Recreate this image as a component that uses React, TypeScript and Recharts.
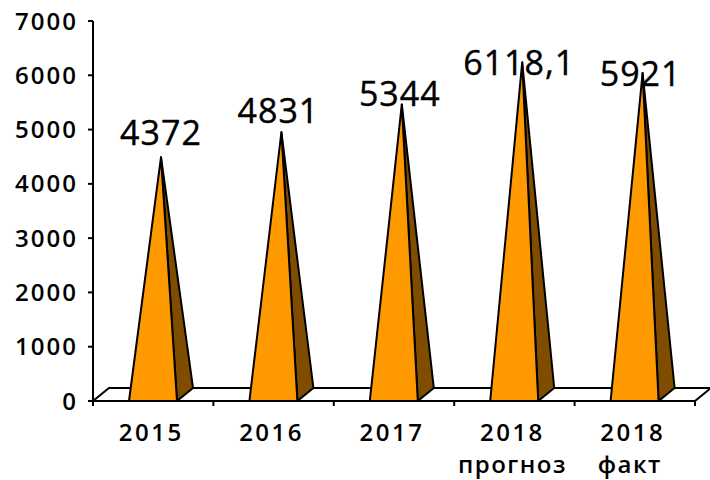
import { Bar, BarChart, LabelList, ReferenceArea, XAxis, YAxis } from "recharts";

const years = ["2015", "2016", "2017", "2018", "2018"];
const subLabels = ["", "", "", "прогноз", "факт"];
const values = [4372, 4831, 5344, 6118.1, 5921];
const yTicks = [0, 1000, 2000, 3000, 4000, 5000, 6000, 7000];

const data = years.map((year, i) => ({ key: `${year}-${i}`, value: values[i] }));

const WIDTH = 710;
const HEIGHT = 480;
const MARGIN = { top: 21, right: 15, bottom: 0, left: 0 };
const AXIS_W = 93;
const AXIS_H = 79;
const BAND = (WIDTH - AXIS_W - MARGIN.right) / years.length;
const DEPTH_X = 16;
const DEPTH_Y = 13;
const FONT = "'Open Sans', sans-serif";

// the data labels were moved by hand in the original
const labelNudge = [
  [0, -12],
  [-3, -9],
  [-2, 2],
  [-3, 13],
  [-2, 13],
];
const subNudge = [0, 0, 0, 0, -3];

function Pyramid(props: any) {
  const { x, y, width, height } = props;
  const base = y + height;
  const apexX = x + width / 2 + DEPTH_X / 2;
  const apexY = y - DEPTH_Y / 2;
  const right = x + width;
  return (
    <g stroke="#000" strokeWidth={2} strokeLinejoin="round">
      <path d={`M${right},${base}L${right + DEPTH_X},${base - DEPTH_Y}L${apexX},${apexY}Z`} fill="#804d00" />
      <path d={`M${x},${base}L${right},${base}L${apexX},${apexY}Z`} fill="#ff9900" />
    </g>
  );
}

function Floor(props: any) {
  const { x, y, width, height } = props;
  const base = y + height;
  return (
    <path
      d={`M${x},${base}L${x + DEPTH_X},${y}L${x + width + DEPTH_X},${y}L${x + width},${base}`}
      fill="#fff"
      stroke="#000"
      strokeWidth={2}
    />
  );
}

function ValueLabel(props: any) {
  const { x, y, width, index, value } = props;
  const [dx, dy] = labelNudge[index];
  return (
    <text
      x={x + width / 2 + DEPTH_X / 2 + dx}
      y={y - DEPTH_Y / 2 + dy}
      textAnchor="middle"
      fontFamily={FONT}
      fontSize={34}
      letterSpacing={1}
      fill="#000"
      stroke="#000"
      strokeWidth={0.4}
    >
      {String(value).replace(".", ",")}
    </text>
  );
}

function CategoryTick(props: any) {
  const { x, index } = props;
  const left = x - BAND / 2;
  const isLast = index === years.length - 1;
  const axisY = HEIGHT - AXIS_H;
  return (
    <g>
      <line x1={left} x2={left} y1={axisY} y2={axisY + 5} stroke="#000" strokeWidth={2} />
      {isLast && <line x1={left + BAND} x2={left + BAND} y1={axisY} y2={axisY + 5} stroke="#000" strokeWidth={2} />}
      <text
        x={x - 2}
        y={axisY + 40}
        textAnchor="middle"
        fontFamily={FONT}
        fontSize={24}
        fontWeight={600}
        letterSpacing={2.5}
        fill="#000"
      >
        {years[index]}
      </text>
      {subLabels[index] && (
        <text
          x={x - 2 + subNudge[index]}
          y={axisY + 72}
          textAnchor="middle"
          fontFamily={FONT}
          fontSize={24}
          fontWeight={600}
          letterSpacing={1.5}
          fill="#000"
        >
          {subLabels[index]}
        </text>
      )}
    </g>
  );
}

export default function App() {
  return (
    <div style={{ position: "absolute", left: 0, top: 0, width: WIDTH, height: HEIGHT, background: "#fff" }}>
      <BarChart width={WIDTH} height={HEIGHT} data={data} margin={MARGIN} barSize={48}>
        <XAxis
          dataKey="key"
          interval={0}
          height={AXIS_H}
          axisLine={{ stroke: "#000", strokeWidth: 2 }}
          tickLine={false}
          tick={<CategoryTick />}
        />
        <YAxis
          width={AXIS_W}
          domain={[0, 7000]}
          ticks={yTicks}
          interval={0}
          axisLine={{ stroke: "#000", strokeWidth: 2 }}
          tickLine={{ stroke: "#000", strokeWidth: 2 }}
          tickSize={5}
          tickMargin={10}
          tick={{ fill: "#000", fontFamily: FONT, fontSize: 24, fontWeight: 600, letterSpacing: 2 }}
        />
        <ReferenceArea y1={0} y2={240} shape={<Floor />} ifOverflow="visible" />
        <Bar dataKey="value" isAnimationActive={false} shape={<Pyramid />}>
          <LabelList dataKey="value" content={<ValueLabel />} />
        </Bar>
      </BarChart>
    </div>
  );
}
